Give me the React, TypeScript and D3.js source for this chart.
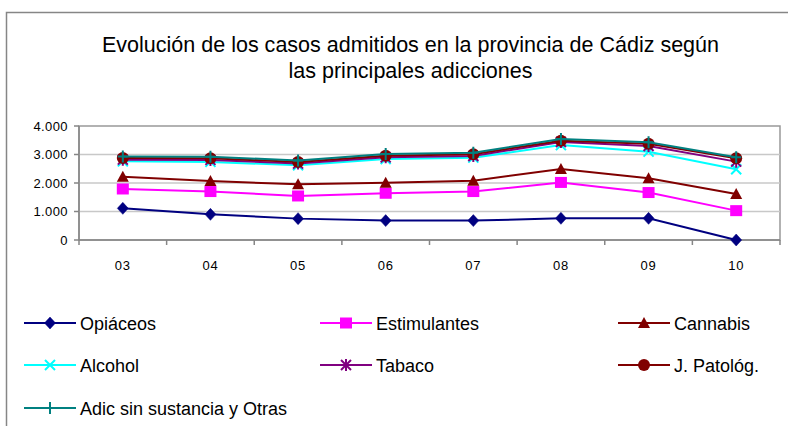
import React from "react";
import * as d3 from "d3";

const categories = ["03", "04", "05", "06", "07", "08", "09", "10"];
const opiaceos = [1110, 900, 750, 680, 680, 760, 760, 0];
const estimulantes = [1790, 1700, 1545, 1640, 1700, 2020, 1665, 1030];
const cannabis = [2220, 2070, 1955, 2010, 2080, 2490, 2165, 1615];
const alcohol = [2760, 2740, 2620, 2840, 2890, 3330, 3100, 2480];
const tabaco = [2820, 2810, 2680, 2900, 2950, 3440, 3300, 2750];
const jPatolog = [2880, 2870, 2740, 2960, 3010, 3485, 3380, 2870];
const adicOtras = [2930, 2920, 2790, 3020, 3065, 3545, 3430, 2900];
const yTicks = [0, 1000, 2000, 3000, 4000];
const titleLines = [
  "Evolución de los casos admitidos en la provincia de Cádiz según",
  "las principales adicciones",
];

type Marker = "diamond" | "square" | "triangle" | "x" | "star" | "circle" | "plus";
const series: { name: string; values: number[]; color: string; marker: Marker }[] = [
  { name: "Opiáceos", values: opiaceos, color: "#000080", marker: "diamond" },
  { name: "Estimulantes", values: estimulantes, color: "#FF00FF", marker: "square" },
  { name: "Cannabis", values: cannabis, color: "#800000", marker: "triangle" },
  { name: "Alcohol", values: alcohol, color: "#00FFFF", marker: "x" },
  { name: "Tabaco", values: tabaco, color: "#800080", marker: "star" },
  { name: "J. Patológ.", values: jPatolog, color: "#800000", marker: "circle" },
  { name: "Adic sin sustancia y Otras", values: adicOtras, color: "#008080", marker: "plus" },
];

const W = 788;
const H = 426;
const plot = { left: 79, right: 780, top: 126, bottom: 240 };

function MarkerShape({ type, x, y, color, s = 1 }: { type: Marker; x: number; y: number; color: string; s?: number }) {
  const r = 5.5 * s;
  switch (type) {
    case "diamond":
      return <path d={`M${x},${y - r - 0.5}L${x + r},${y}L${x},${y + r + 0.5}L${x - r},${y}Z`} fill={color} stroke={color} strokeWidth={0.5} />;
    case "square":
      return <rect x={x - 6 * s} y={y - 5.5 * s} width={12 * s} height={11 * s} fill={color} />;
    case "triangle":
      return <path d={`M${x},${y - 6 * s}L${x + 6 * s},${y + 5 * s}L${x - 6 * s},${y + 5 * s}Z`} fill={color} />;
    case "circle":
      return <circle cx={x} cy={y} r={6 * s} fill={color} />;
    case "x":
      return (
        <path d={`M${x - 5},${y - 5}L${x + 5},${y + 5}M${x - 5},${y + 5}L${x + 5},${y - 5}`} stroke={color} strokeWidth={2} fill="none" />
      );
    case "star":
      return (
        <path
          d={`M${x - 5},${y - 5}L${x + 5},${y + 5}M${x - 5},${y + 5}L${x + 5},${y - 5}M${x},${y - 6}L${x},${y + 6}`}
          stroke={color}
          strokeWidth={2}
          fill="none"
        />
      );
    case "plus":
      return <path d={`M${x - 5},${y}L${x + 5},${y}M${x},${y - 6}L${x},${y + 6}`} stroke={color} strokeWidth={2} fill="none" />;
  }
  return null;
}

export default function App() {
  const x = d3.scaleBand<string>().domain(categories).range([plot.left, plot.right]);
  const y = d3.scaleLinear().domain([0, 4000]).range([plot.bottom, plot.top]);
  const cx = (c: string) => (x(c) as number) + x.bandwidth() / 2;
  const line = d3
    .line<number>()
    .x((_, i) => cx(categories[i]))
    .y((v) => y(v));
  const fmt = (v: number) => d3.format(",")(v).replace(/,/g, ".");
  const boundaries = [...categories.map((c) => x(c) as number), plot.right];

  const legendCols = [24, 320, 618];
  const legendRows = [323, 365, 408];

  return (
    <svg width={W} height={H} style={{ position: "absolute", left: 0, top: 0, fontFamily: "'Liberation Sans', Arial, sans-serif" }}>
      <rect x={0} y={0} width={W} height={H} fill="#fff" />
      <rect x={6.5} y={12.5} width={900} height={600} fill="#fff" stroke="#868686" strokeWidth={1.5} />
      {/* title */}
      {titleLines.map((t, i) => (
        <text
          key={i}
          x={410.5}
          y={52 + i * 26}
          textAnchor="middle"
          fontSize={22}
          fill="#000"
          style={{ fontFamily: "'Liberation Sans Narrow', 'Liberation Sans', Arial, sans-serif" }}
          textLength={i === 0 ? 617 : 244}
          lengthAdjust="spacingAndGlyphs"
        >
          {t}
        </text>
      ))}
      {/* plot area */}
      <rect x={plot.left} y={plot.top} width={plot.right - plot.left} height={plot.bottom - plot.top} fill="#fff" stroke="#999" strokeWidth={1.5} />
      {yTicks.slice(1, 4).map((t) => (
        <line key={t} x1={plot.left} x2={plot.right} y1={y(t)} y2={y(t)} stroke="#c8c8c8" strokeWidth={1.5} />
      ))}
      {/* axes */}
      <line x1={plot.left} x2={plot.left} y1={plot.top} y2={plot.bottom} stroke="#868686" strokeWidth={1.5} />
      <line x1={plot.left} x2={plot.right} y1={plot.bottom} y2={plot.bottom} stroke="#868686" strokeWidth={1.5} />
      {yTicks.map((t) => (
        <g key={t}>
          <line x1={plot.left - 5} x2={plot.left} y1={y(t)} y2={y(t)} stroke="#868686" strokeWidth={1.5} />
          <text x={68} y={y(t) + 4.5} textAnchor="end" fontSize={13} letterSpacing={0.4} fill="#000">
            {fmt(t)}
          </text>
        </g>
      ))}
      {boundaries.map((b, i) => (
        <line key={i} x1={b} x2={b} y1={plot.bottom} y2={plot.bottom + 5} stroke="#868686" strokeWidth={1.5} />
      ))}
      {categories.map((c) => (
        <text key={c} x={cx(c)} y={270} textAnchor="middle" fontSize={13} letterSpacing={0.8} fill="#000">
          {c}
        </text>
      ))}
      {/* series */}
      {series.map((s) => (
        <g key={s.name}>
          <path d={line(s.values) || ""} fill="none" stroke={s.color} strokeWidth={2} />
          {s.values.map((v, i) => (
            <MarkerShape key={i} type={s.marker} x={cx(categories[i])} y={y(v)} color={s.color} />
          ))}
        </g>
      ))}
      {/* legend */}
      {series.map((s, i) => {
        const lx = legendCols[i % 3];
        const ly = legendRows[Math.floor(i / 3)];
        return (
          <g key={s.name}>
            <line x1={lx} x2={lx + 52} y1={ly} y2={ly} stroke={s.color} strokeWidth={2} />
            <MarkerShape type={s.marker} x={lx + 26} y={ly} color={s.color} />
            <text x={lx + 56} y={ly + 6.5} fontSize={18} fill="#000">
              {s.name}
            </text>
          </g>
        );
      })}
    </svg>
  );
}
